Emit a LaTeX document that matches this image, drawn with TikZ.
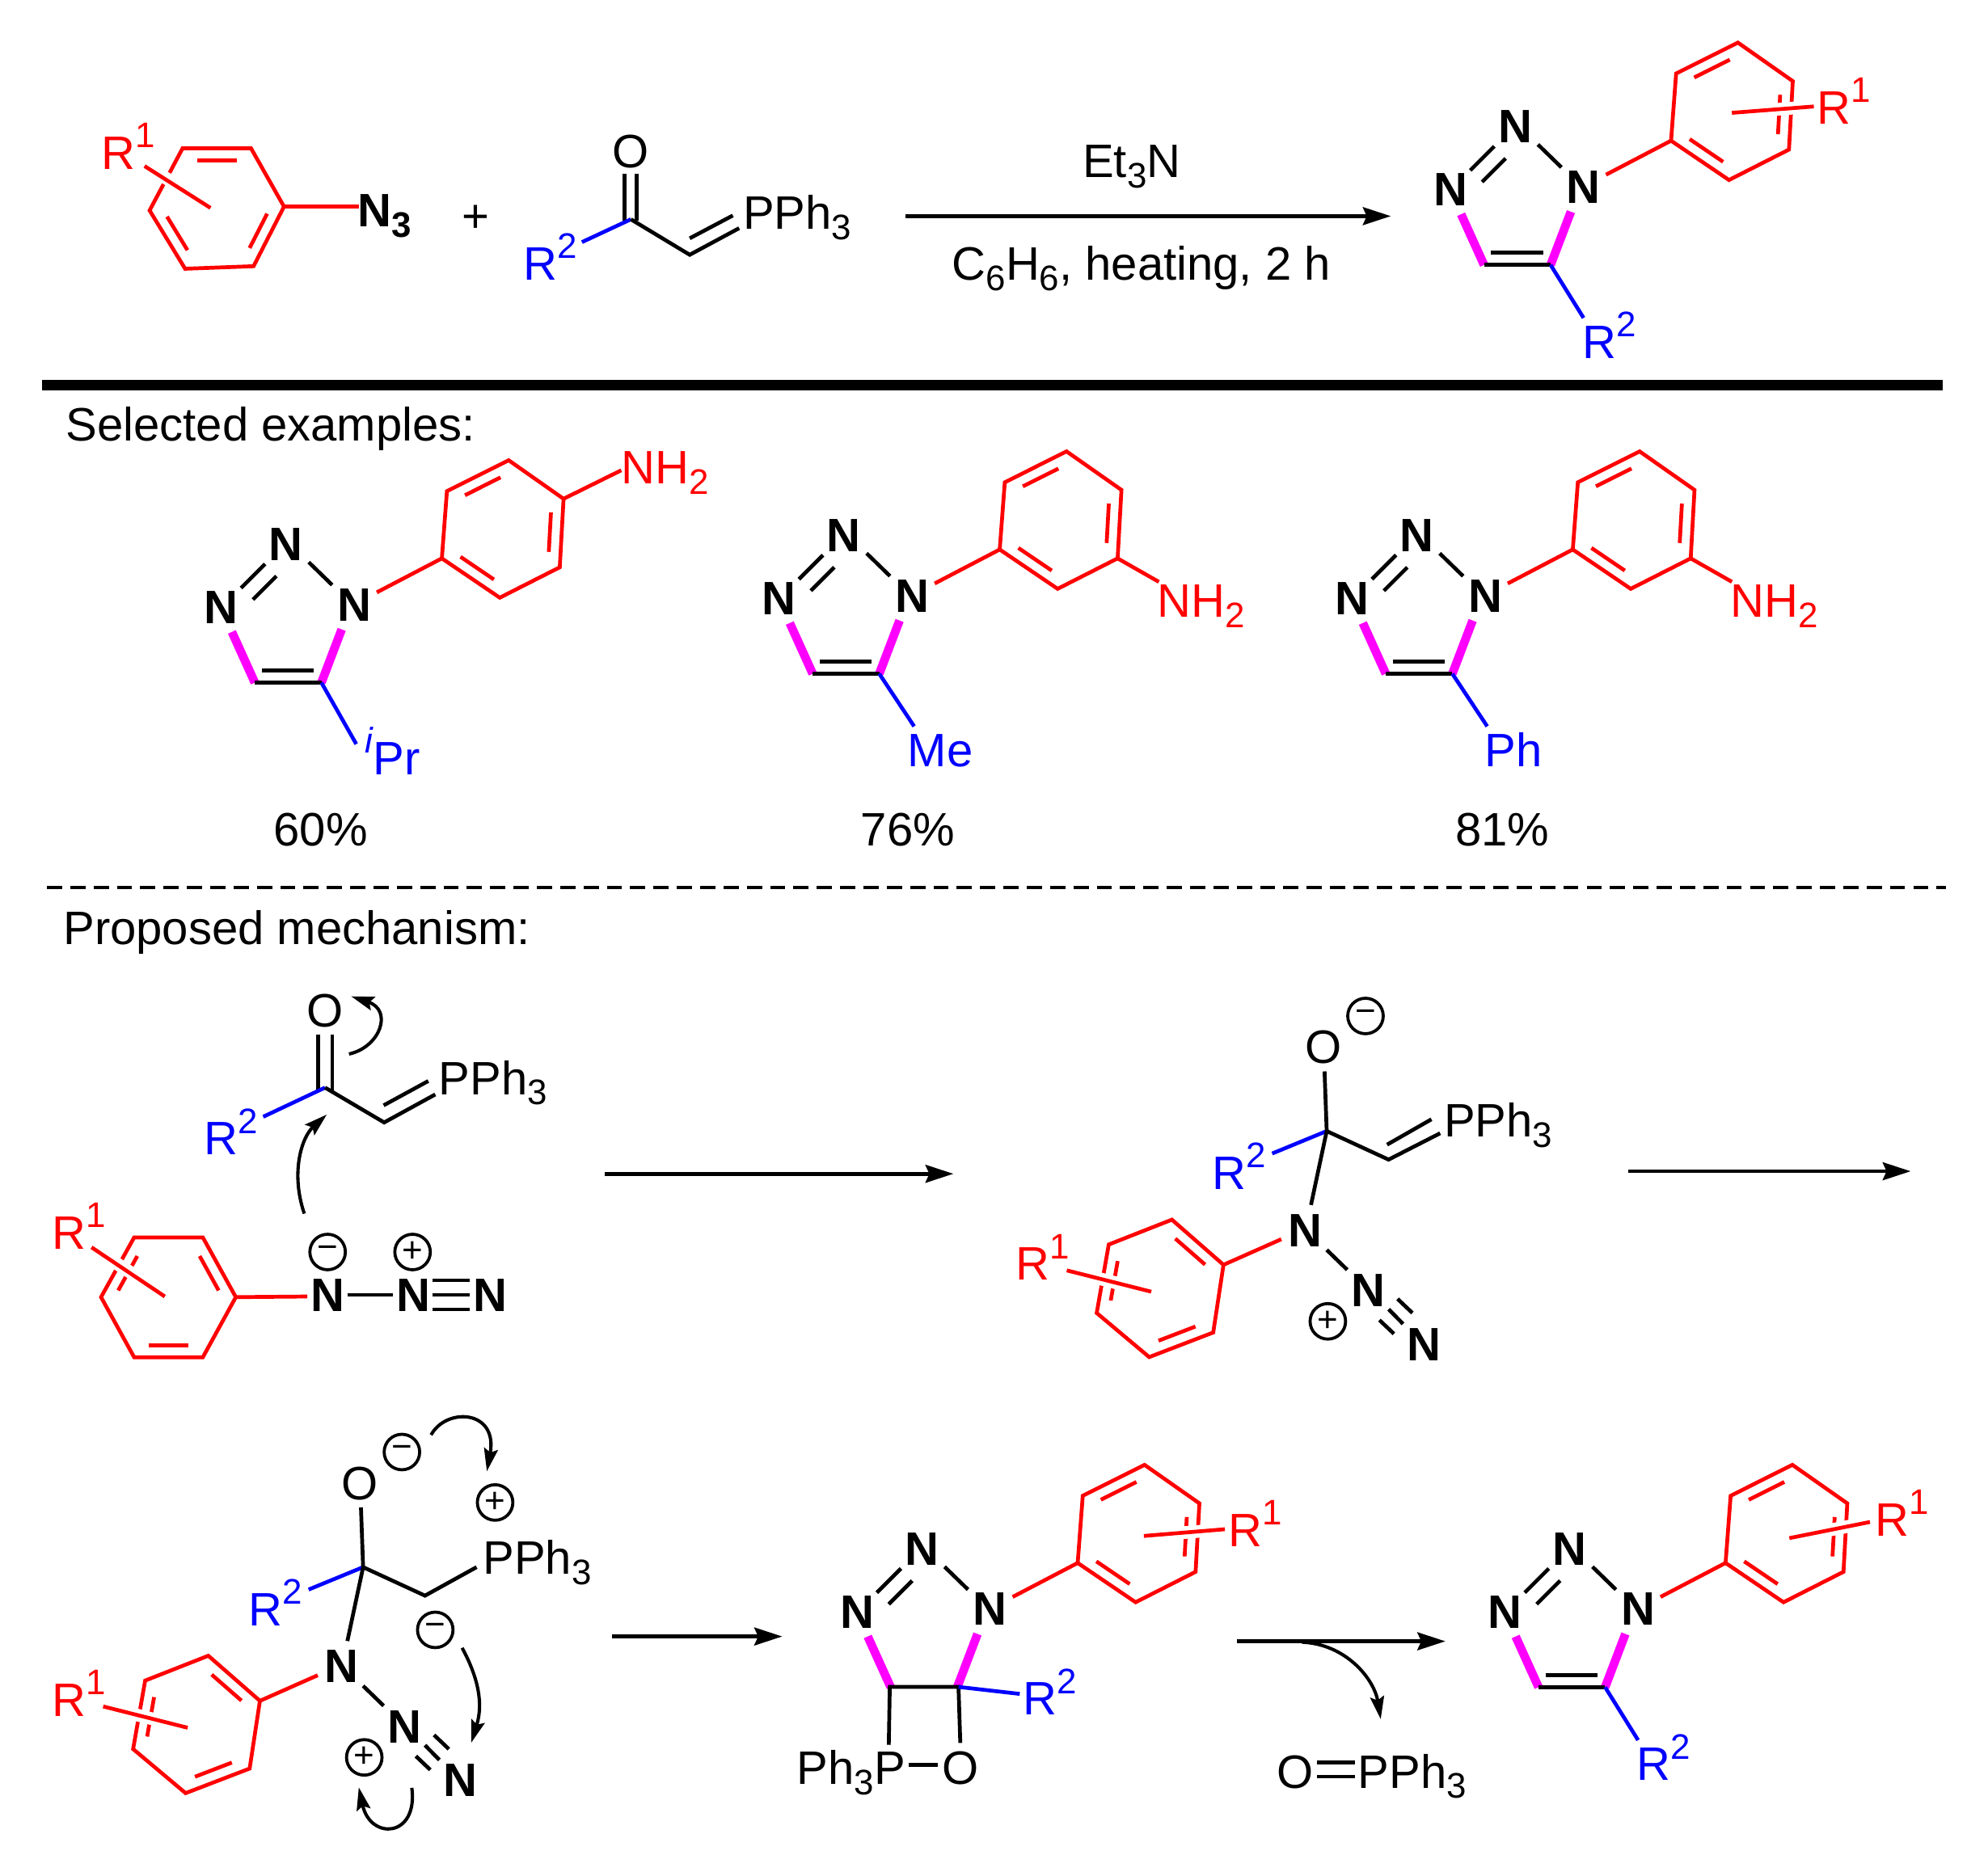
\documentclass[tikz,border=0pt]{standalone}
\usepackage{fontspec}
\setmainfont{Liberation Sans}
\usetikzlibrary{arrows.meta,calc}
\definecolor{rd}{RGB}{255,0,0}
\definecolor{bl}{RGB}{0,0,255}
\definecolor{mg}{RGB}{255,0,255}
\newcommand\psup[1]{\raisebox{.46em}{\fontsize{14}{14}\selectfont #1}}
\newcommand\psub[1]{\raisebox{-.22em}{\fontsize{14}{14}\selectfont #1}}
\tikzset{
 txt/.style={inner sep=0pt,outer sep=0pt,anchor=base west,font=\fontsize{18.5}{20}\selectfont},
 ctr/.style={inner sep=0pt,outer sep=0pt,anchor=base,font=\fontsize{18.5}{20}\selectfont},
 nb/.style={inner sep=0pt,outer sep=0pt,anchor=base,font=\fontsize{18.5}{20}\selectfont\bfseries},
 kb/.style={line width=1.5pt,black},
 rb/.style={line width=1.5pt,rd},
 bb/.style={line width=1.5pt,bl},
 mb/.style={line width=3.4pt,mg},
 halo/.style={line width=5pt,white},
 rxn/.style={line width=1.5pt,-{Stealth[length=11pt,width=7pt,inset=1.5pt]}},
 cur/.style={line width=1.3pt,-{Stealth[length=9pt,width=5.5pt,inset=1.5pt]}},
 chg/.style={draw,circle,line width=1.2pt,minimum size=14pt,inner sep=0pt,outer sep=0pt,font=\fontsize{14}{14}\selectfont},
}
% six-membered ring from six vertices
\newcommand\ringsix[6]{%
 \coordinate (ra) at #1; \coordinate (rb) at #2; \coordinate (rc) at #3;
 \coordinate (rd) at #4; \coordinate (re) at #5; \coordinate (rf) at #6;
 \coordinate (cen) at ($(ra)!.5!(rd)$);
 \draw[rb] (ra)--(rb)--(rc)--(rd)--(re)--(rf)--cycle;}
\newcommand\inb[2]{\draw[rb] ($($(#1)!.14!(#2)$)!.2!(cen)$) -- ($($(#2)!.14!(#1)$)!.2!(cen)$);}
% triazole Ns, N=N, N-N, the two magenta bonds
\newcommand\triaz[3]{%
 \begin{scope}[shift={(#2,#3)}]
 \node[nb] (#1Nt) at (1195,112.8) {N};
 \node[nb] (#1Nl) at (1144,162.3) {N};
 \node[nb] (#1Nr) at (1249,160.3) {N};
 \draw[kb] (1178.6,115.4)--(1159.6,134.4);
 \draw[kb] (1187.5,125)--(1169,143.5);
 \draw[kb] (1213,114)--(1231.5,132);
 \draw[mb] (1152.4,169)--(1170.5,209);
 \draw[mb] (1239,167)--(1223,209);
 \end{scope}}
% C=C of the triazole
\newcommand\cdc[2]{%
 \begin{scope}[shift={(#1,#2)}]
 \draw[kb] (1170.5,209)--(1223,209);
 \draw[kb] (1176,199.4)--(1217,199.4);
 \end{scope}}
% N-aryl group of the triazole
\newcommand\aryl[2]{%
 \begin{scope}[shift={(#1,#2)}]
 \ringsix{(1318,111)}{(1322,58)}{(1370.7,33.6)}{(1414,64)}{(1411,118)}{(1363.7,142)}
 \inb{rb}{rc}\inb{rd}{re}\inb{ra}{rf}
 \draw[rb] (1266.7,137.8)--(ra);
 \end{scope}}
% R1 substituent line crossing a ring, and its label
\newcommand\rone[7]{%
 \draw[halo] ($(#2,#3)!.12!(#4,#5)$)--(#4,#5);
 \draw[rb] (#2,#3)--(#4,#5);
 \node[txt,rd] (#1) at (#6,#7) {R\psup{1}};}
% tetrahedral adduct common part
\newcommand\adduct[3]{%
 \begin{scope}[shift={(#2,#3)}]
 \node[ctr] (#1O) at (284,1183) {O};
 \node[chg] (#1m) at (317,1145.5) {−};
 \coordinate (#1C) at (286.4,1236.3);
 \draw[bb] (#1C)--(243.4,1254);
 \draw[kb] (284.7,1189.2)--(#1C)--(274,1294.6);
 \node[txt,bl] (#1R) at (196,1282.4) {R\psup{2}};
 \node[nb] (#1N) at (269.4,1327.5) {N};
 \ringsix{(205,1341.8)}{(164.3,1306.2)}{(114.5,1325.8)}{(105,1379.8)}{(146.4,1414.6)}{(196.9,1395.2)}
 \inb{ra}{rb}\inb{rc}{rd}\inb{re}{rf}
 \draw[rb] (250.6,1321.6)--(ra);
 \draw[halo] (81.4,1346.2)--(144,1362);
 \draw[rb] (81.4,1346.2)--(148,1363);
 \node[txt,rd] (#1Ra) at (41,1354) {R\psup{1}};
 \draw[kb] (286.4,1330)--(302.6,1345.7);
 \node[nb] (#1Nb) at (319,1374.9) {N};
 \draw[kb] (335.2,1376.8)--(346.6,1388.4);
 \draw[kb] (342.3,1368.7)--(354,1379.8);
 \draw[kb] (328,1385.4)--(339.4,1396.2);
 \node[nb] (#1Nc) at (363.2,1417.3) {N};
 \node[chg] (#1p) at (287.3,1386.4) {+};
 \end{scope}}
\begin{document}
\begin{tikzpicture}[x=0.5pt,y=-0.5pt]
\useasboundingbox (0,0) rectangle (1568,1463.4);
% ---- top row
\ringsix{(224,163)}{(198,117)}{(144,117)}{(118,166)}{(146,212)}{(200,210)}
\inb{rb}{rc}\inb{ra}{rf}\inb{rd}{re}
\draw[rb] (ra)--(283,163);
\draw[halo] (114,131)--(160,157);
\draw[rb] (114,131)--(166,164);
\node[txt,rd] (r1a) at (80,133.5) {R\psup{1}};
\node[txt,font=\fontsize{18.5}{20}\selectfont\bfseries] (n3) at (282,179) {N\psub{3}};
\node[ctr] (plus) at (375,183) {+};
\node[ctr] (o1) at (497.6,132) {O};
\coordinate (c1) at (497.6,173);
\coordinate (ch1) at (544,201);
\draw[kb] (492.7,137)--(492.7,174);
\draw[kb] (502,137)--(502,174);
\draw[bb] (c1)--(459,191);
\draw[kb] (c1)--(ch1)--(583,180);
\draw[kb] (544,188)--(578,170);
\node[txt,bl] (r2a) at (413,221) {R\psup{2}};
\node[txt] (pa) at (586,180.7) {PPh\psub{3}};
\coordinate (a1s) at (714,170.5);
\coordinate (a1e) at (1097,170.5);
\draw[rxn] (a1s)--(a1e);
\node[txt] (et) at (854,140) {Et\psub{3}N};
\node[txt] (cond) at (751,221) {C\psub{6}H\psub{6}, heating, 2 h};
\triaz{t}{0}{0}\cdc{0}{0}\aryl{0}{0}
\rone{r1b}{1366}{89}{1430.6}{84}{1433}{97.8}
\draw[bb] (1223,209)--(1249,250.8);
\node[txt,bl] (r2b) at (1248,282.7) {R\psup{2}};
% ---- thick rule
\coordinate (tl) at (33,304); \coordinate (tr) at (1532,304);
\draw[line width=4pt] (tl)--(tr);
\node[txt] (sel) at (52,348) {Selected examples:};
% ---- examples
\triaz{e}{-969.5}{329.5}\cdc{-969.5}{329.5}\aryl{-969.5}{329.5}
\draw[rb] (444.5,393.5)--(490,371);
\node[txt,rd] (nh1) at (490,381.5) {NH\psub{2}};
\draw[bb] (253.5,538.5)--(281,587);
\node[txt,bl] (ipr) at (288,611) {\raisebox{.46em}{\fontsize{14}{14}\selectfont\itshape i}Pr};
\node[ctr] (y1) at (253,667) {60\%};
\triaz{f}{-529.5}{322.5}\cdc{-529.5}{322.5}\aryl{-529.5}{322.5}
\draw[rb] (881.5,440.5)--(914,459);
\node[txt,rd] (nh2) at (913,487) {NH\psub{2}};
\draw[bb] (693.5,531.5)--(721,573);
\node[txt,bl] (me) at (716,605) {Me};
\node[ctr] (y2) at (716,667) {76\%};
\triaz{g}{-77.5}{322.5}\cdc{-77.5}{322.5}\aryl{-77.5}{322.5}
\draw[rb] (1333.5,440.5)--(1366,459);
\node[txt,rd] (nh3) at (1365,487) {NH\psub{2}};
\draw[bb] (1145.5,531.5)--(1173,573);
\node[txt,bl] (ph) at (1171,605) {Ph};
\node[ctr] (y3) at (1185,667) {81\%};
% ---- dashed rule
\coordinate (dl) at (37,700); \coordinate (dr) at (1535,700);
\draw[line width=1.4pt,dash pattern=on 6pt off 3.2pt] (dl)--(dr);
\node[txt] (pro) at (50,745) {Proposed mechanism:};
% ---- mechanism: step 1
\node[ctr] (o2) at (256.4,810) {O};
\coordinate (c2) at (256.4,858);
\coordinate (ch2) at (303,885.5);
\draw[kb] (250.9,816.3)--(250.9,861);
\draw[kb] (262,816.3)--(262,861);
\draw[bb] (c2)--(207.6,881);
\draw[kb] (c2)--(ch2)--(343.3,863.4);
\draw[kb] (302.6,872)--(337.8,852.8);
\node[txt,bl] (r2c) at (161,911) {R\psup{2}};
\node[txt] (pb) at (346,863.5) {PPh\psub{3}};
\draw[cur] (275.3,831.5) .. controls (300,826) and (310,797) .. (277,786);
\draw[cur] (240,957.4) .. controls (229,925) and (238,897) .. (257.7,879.3);
\ringsix{(186,1023.3)}{(160,976.2)}{(105.8,976.2)}{(79.7,1023.3)}{(105.8,1070.7)}{(160,1070.7)}
\inb{ra}{rb}\inb{rc}{rd}\inb{re}{rf}
\draw[halo] (72.2,984)--(125,1018);
\draw[rb] (72.2,984)--(130,1022.8);
\node[txt,rd] (r1c) at (41,985.3) {R\psup{1}};
\draw[rb] (186,1023.3)--(242.4,1022.8);
\node[nb] (na) at (258.7,1034.6) {N};
\node[nb] (nb2) at (326,1034.6) {N};
\node[nb] (nc) at (386.6,1034.6) {N};
\draw[kb] (274,1021.5)--(309.8,1021.5);
\draw[kb] (341,1010)--(370.7,1010);
\draw[kb] (341,1021.5)--(370.7,1021.5);
\draw[kb] (341,1033)--(370.7,1033);
\node[chg] (ma) at (258.4,987.7) {−};
\node[chg] (pa2) at (325.4,987.7) {+};
\coordinate (a2s) at (477,926); \coordinate (a2e) at (752,926);
\draw[rxn] (a2s)--(a2e);
% step 2
\adduct{u}{760}{-344}
\begin{scope}[shift={(760,-344)}]
\draw[kb] (uC)--(335.2,1258.8)--(375.9,1238);
\draw[kb] (334,1247)--(369,1227);
\node[txt] (pc) at (379,1241) {PPh\psub{3}};
\end{scope}
\coordinate (a3s) at (1284,924); \coordinate (a3e) at (1507,924);
\draw[rxn] (a3s)--(a3e);
% step 3
\adduct{v}{0}{0}
\draw[kb] (vC)--(335.2,1258.8)--(375.9,1236.3);
\node[txt] (pd) at (381,1242) {PPh\psub{3}};
\node[chg] (pe) at (390.5,1185.3) {+};
\node[chg] (mf) at (343.3,1285.8) {−};
\draw[cur] (340,1132) .. controls (352,1110) and (393,1112) .. (384,1160.7);
\draw[cur] (364.5,1300) .. controls (378,1325) and (381,1345) .. (371.6,1374.9);
\draw[cur] (324.8,1410.4) .. controls (330,1450) and (292,1452) .. (283,1410);
\coordinate (a4s) at (483,1291); \coordinate (a4e) at (617,1291);
\draw[rxn] (a4s)--(a4e);
% step 4: fused product
\triaz{w}{-468}{1122}\aryl{-468}{1122}
\rone{r1d}{902.2}{1211.7}{966.1}{1206.4}{969}{1220.2}
\coordinate (ca) at (701.8,1330.8); \coordinate (cb) at (756,1330.8);
\draw[kb] (701,1376.5)--(ca)--(cb)--(757.4,1375);
\draw[bb] (cb)--(804.3,1336.3);
\node[txt,bl] (r2d) at (807,1353) {R\psup{2}};
\node[txt] (pf) at (628.5,1407.5) {Ph\psub{3}P};
\node[ctr] (o4) at (757.8,1407.5) {O};
\draw[kb] (716.4,1392.4)--(739.9,1392.4);
\coordinate (a5s) at (975.6,1294.8); \coordinate (a5e) at (1140,1294.8);
\draw[rxn] (a5s)--(a5e);
\draw[cur] (1027,1295.5) .. controls (1062,1297) and (1084,1325) .. (1089,1356.3);
\node[txt] (o5) at (1007,1410.5) {O};
\draw[kb] (1039,1390.3)--(1069,1390.3);
\draw[kb] (1039,1401.5)--(1069,1401.5);
\node[txt] (pg) at (1071,1410.5) {PPh\psub{3}};
% step 5: final product
\triaz{x}{43}{1122}\cdc{43}{1122}\aryl{43}{1122}
\rone{r1e}{1411.3}{1213.4}{1474.9}{1200.7}{1479}{1211.7}
\draw[bb] (1266,1331)--(1292,1372.8);
\node[txt,bl] (r2e) at (1291,1404.7) {R\psup{2}};
\end{tikzpicture}
\end{document}
